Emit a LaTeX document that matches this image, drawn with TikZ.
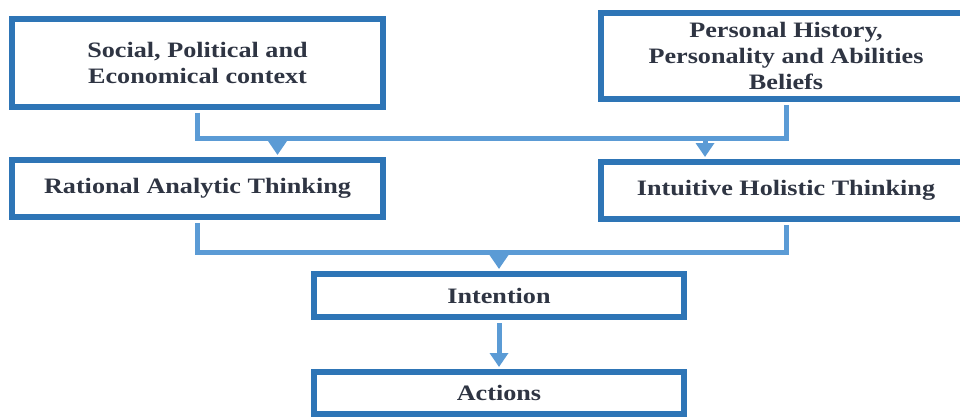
\documentclass[tikz,border=0pt]{standalone}
\usepackage{fontspec}
\setmainfont{Liberation Serif}[FakeStretch=1.19]
\usetikzlibrary{arrows.meta}
\definecolor{boxblue}{HTML}{2E75B6}
\definecolor{linkblue}{HTML}{5B9BD5}
\definecolor{inktext}{HTML}{2F3543}
\begin{document}
\begin{tikzpicture}[x=1pt,y=-1pt,
  panel/.style={draw=boxblue, line width=6pt, fill=white, inner sep=0pt,
    align=center, text=inktext, font=\fontsize{22}{26}\selectfont\bfseries},
  link/.style={draw=linkblue, line width=5pt, line join=miter, shorten <=3pt, shorten >=3pt},
  arrowlink/.style={draw=linkblue, line width=5pt,
    -{Triangle[width=18pt,length=14pt]}, shorten >=2pt}
]
\useasboundingbox (0,0) rectangle (960,417);

% boxes
\node[panel, minimum width=371pt, minimum height=88pt] (social) at (197.5,63)
  {Social, Political and\\Economical context};
\node[panel, minimum width=370pt, minimum height=86pt] (personal) at (786,56)
  {Personal History,\\Personality and Abilities\\Beliefs};
\node[panel, minimum width=371pt, minimum height=57pt] (rational) at (197.5,188.5)
  {Rational Analytic Thinking};
\node[panel, minimum width=370pt, minimum height=57pt] (intuitive) at (786,190.5)
  {Intuitive Holistic Thinking};
\node[panel, minimum width=370pt, minimum height=43pt] (intention) at (499,295.5)
  {Intention};
\node[panel, minimum width=370pt, minimum height=42pt] (actions) at (499,393)
  {Actions};

% bus lines
\coordinate (topbus) at (0,138);
\coordinate (lowbus) at (0,252);

\draw[link] (social.south) -- (social.south |- topbus) -| (personal.south);
\draw[arrowlink] ([xshift=80pt]rational.north |- topbus) -- ([xshift=80pt]rational.north);
\draw[arrowlink] ([xshift=-81pt]intuitive.north |- topbus) -- ([xshift=-81pt]intuitive.north);

\draw[link] (rational.south) -- (rational.south |- lowbus) -| (intuitive.south);
\draw[arrowlink] (intention.north |- lowbus) -- (intention.north);
\draw[arrowlink, shorten <=3pt] (intention.south) -- (actions.north);
\end{tikzpicture}
\end{document}
